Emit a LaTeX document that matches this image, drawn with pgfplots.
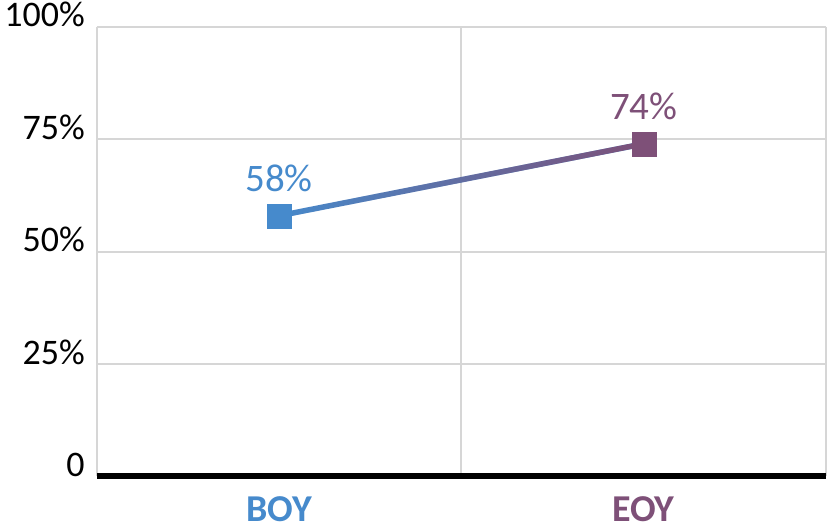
\documentclass[border=0pt]{standalone}
\usepackage{fontspec}
\setmainfont{Carlito}
\usepackage{pgfplots}
\pgfplotsset{compat=1.18}
\usetikzlibrary{fadings}
\definecolor{cblue}{RGB}{70,138,204}
\definecolor{cpurp}{RGB}{126,80,120}
\definecolor{cgrid}{RGB}{214,214,214}
\tikzfading[name=fadeR, left color=transparent!100, right color=transparent!0]
\begin{document}
\begin{tikzpicture}
\begin{axis}[
  name=ax,
  scale only axis,
  width=730pt, height=450pt,
  xmin=-0.5, xmax=1.5, ymin=0, ymax=100,
  clip=false,
  axis line style={draw=none},
  major tick length=0pt,
  /pgf/number format/assume math mode=true,
  ytick={0,25,50,75,100},
  yticklabels={0,25\%,50\%,75\%,100\%},
  ymajorgrids,
  grid style={cgrid, line width=2pt},
  xtick={0,1},
  xticklabels={\textcolor{cblue}{\textbf{BOY}},\textcolor{cpurp}{\textbf{EOY}}},
  extra x ticks={-0.5,0.5,1.5},
  extra x tick labels={},
  extra x tick style={grid=major, grid style={cgrid, line width=2pt}},
  y tick label style={font=\fontsize{36}{36}\selectfont, anchor=base east, inner sep=0pt, xshift=-12pt},
  x tick label style={font=\fontsize{38}{38}\selectfont, anchor=north, inner sep=0pt, yshift=-20pt},
]
\draw[black, line width=6pt] (axis cs:-0.5,0) -- (axis cs:1.5,0);
\addplot[cblue, line width=5.5pt, no marks] coordinates {(0,58) (1,74)};
\addplot[cpurp, line width=5.5pt, no marks, path fading=fadeR, fit fading=true] coordinates {(0,58) (1,74)};
\addplot[only marks, mark=square*, mark size=12pt, cblue,
  nodes near coords={\pgfmathprintnumber{\pgfplotspointmeta}\%},
  nodes near coords style={font=\fontsize{39}{39}\selectfont, text=cblue, anchor=base, inner sep=0pt, yshift=24pt}]
  coordinates {(0,58)};
\addplot[only marks, mark=square*, mark size=12pt, cpurp,
  nodes near coords={\pgfmathprintnumber{\pgfplotspointmeta}\%},
  nodes near coords style={font=\fontsize{39}{39}\selectfont, text=cpurp, anchor=base, inner sep=0pt, yshift=24pt}]
  coordinates {(1,74)};
\end{axis}
\pgfresetboundingbox
\path ([shift={(-97pt,-55pt)}]ax.south west) rectangle ([shift={(1pt,27pt)}]ax.north east);
\end{tikzpicture}
\end{document}
